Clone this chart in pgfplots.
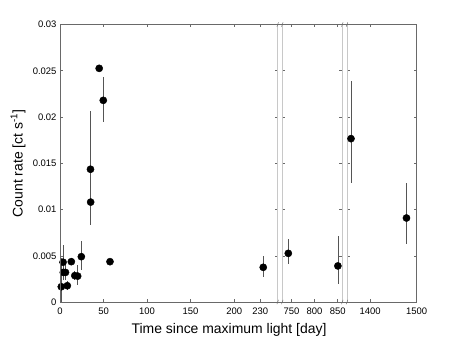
\documentclass[border=0pt]{standalone}
\usepackage{fontspec}
\setmainfont{Liberation Sans}
\usepackage{pgfplots}
\pgfplotsset{compat=1.18}
\definecolor{framec}{RGB}{105,105,105}
\definecolor{brkc}{RGB}{200,200,200}
\definecolor{ebarc}{RGB}{85,85,85}
\pgfplotsset{
  seg/.style={
    scale only axis, height=277.5bp, ymin=0, ymax=0.03,
    ytick={0,0.005,0.01,0.015,0.02,0.025,0.03},
    scaled ticks=false,
    tick align=inside, xtick pos=both, ytick pos=both,
    major tick length=3bp,
    every tick/.style={framec, line width=0.5pt},
    axis line style={brkc, line width=0.7pt},
    tick label style={font=\fontsize{9.5}{10}\selectfont, /pgf/number format/assume math mode=true},
    xticklabel style={/pgf/number format/set thousands separator={}, yshift=-2.5bp},
    anchor=south west,
  },
  pts/.style={only marks, mark=*, mark size=3.6bp, black, mark options={fill=black, draw=black},
    error bars/.cd, y dir=both, y explicit, error mark=none,
    error bar style={ebarc, line width=0.7pt}},
}
\pgfplotstableread{
t     r        ep      em
1.5   0.00165  0.0031  0.00165
3.5   0.0043   0.0019  0.0019
3.8   0.0032   0.0008  0.0008
6.3   0.0032   0.0008  0.0008
8.4   0.00176  0.0005  0.0005
13.0  0.00436  0.0004  0.0004
17.0  0.00285  0.0005  0.0005
20.3  0.0028   0.0012  0.0010
24.5  0.0049   0.0017  0.0014
35.0  0.01435  0.0063  0.0060
35.2  0.0108   0.0020  0.0020
45.0  0.02526  0.0003  0.0003
49.7  0.0218   0.0025  0.0023
57.4  0.00436  0.0003  0.0003
233.4 0.00375  0.0012  0.0010
}\segA
\pgfplotstableread{
t     r        ep      em
743   0.00526  0.0015  0.0012
850.4 0.0039   0.0032  0.0020
}\segB
\pgfplotstableread{
t      r        ep      em
1358.6 0.01766  0.0062  0.0048
1478   0.00908  0.0038  0.0028
}\segC
\begin{document}
\begin{tikzpicture}
\path[use as bounding box] (-60bp,-46bp) rectangle (403bp,302bp);
\begin{axis}[seg, at={(0bp,0bp)}, width=217.7bp, xmin=0, xmax=250,
  xtick={0,50,100,150,200,230},
  yticklabel style={/pgf/number format/fixed, /pgf/number format/precision=3}]
\addplot[pts] table[x=t, y=r, y error plus=ep, y error minus=em] {\segA};
\end{axis}
\begin{axis}[seg, at={(222.3bp,0bp)}, width=60bp, xmin=730, xmax=860,
  xtick={750,800,850}, yticklabels={}]
\addplot[pts] table[x=t, y=r, y error plus=ep, y error minus=em] {\segB};
\end{axis}
\begin{axis}[seg, at={(287bp,0bp)}, width=69.7bp, xmin=1350, xmax=1500,
  xtick={1400,1500}, yticklabels={}]
\addplot[pts] table[x=t, y=r, y error plus=ep, y error minus=em] {\segC};
\end{axis}
\draw[framec, line width=0.7pt] (0bp,0bp) rectangle (356.7bp,277.5bp);
\foreach \x in {217.7,222.3,282.3,287}{
  \draw[framec, line width=0.45pt] (\x bp-0.8bp,-2.2bp) .. controls (\x bp+1.6bp,-0.6bp) and (\x bp-1.6bp,0.6bp) .. (\x bp+0.8bp,2.2bp);
  \draw[framec, line width=0.45pt] (\x bp-0.8bp,275.3bp) .. controls (\x bp+1.6bp,276.9bp) and (\x bp-1.6bp,278.1bp) .. (\x bp+0.8bp,279.7bp);
}
\node[rotate=90, font=\fontsize{14}{16}\selectfont] at (-42bp,138.5bp) {Count rate [ct s\textsuperscript{-1}]};
\node[font=\fontsize{14}{16}\selectfont] at (169bp,-28bp) {Time since maximum light [day]};
\end{tikzpicture}
\end{document}
